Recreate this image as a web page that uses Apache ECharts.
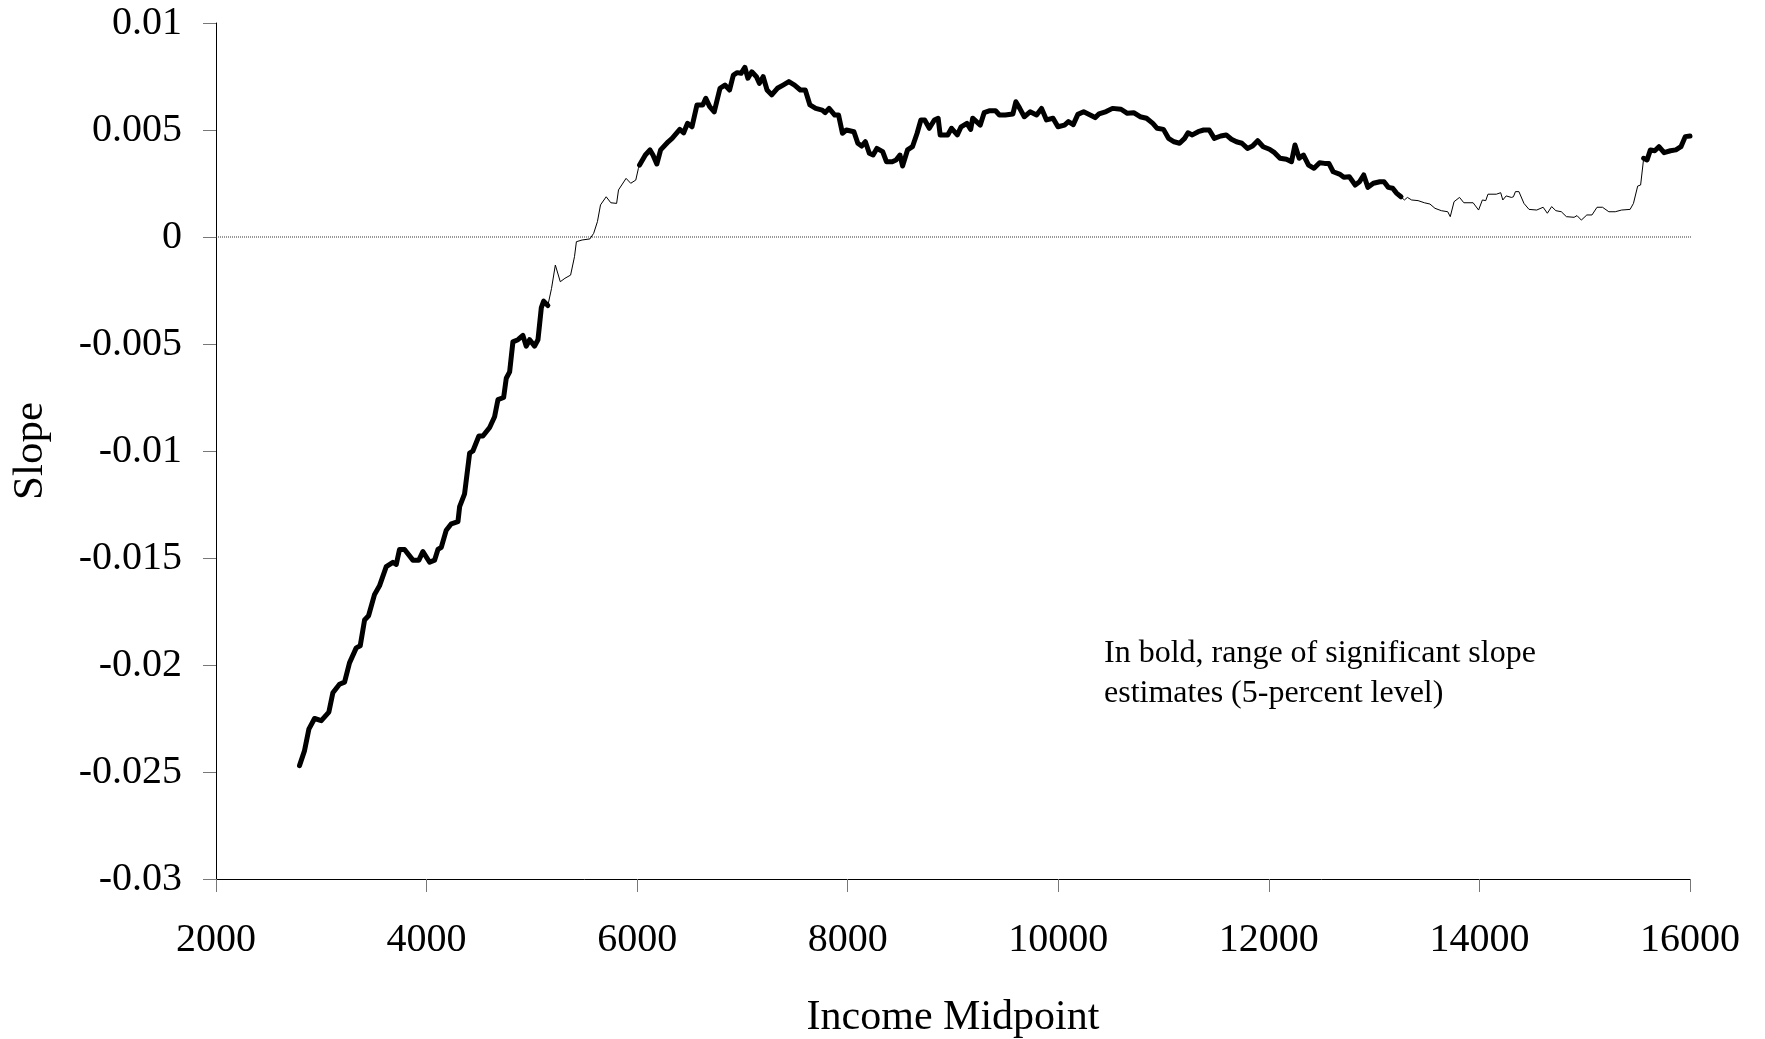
<!DOCTYPE html>
<html>
<head>
<meta charset="utf-8">
<title>Slope by Income Midpoint</title>
<script src="https://cdn.jsdelivr.net/npm/echarts@6/dist/echarts.min.js"></script>
<style>
  html, body { margin: 0; padding: 0; background: #ffffff; }
  #chart { width: 1765px; height: 1039px; }
</style>
</head>
<body>
<div id="chart"></div>
<script>
// Rolling-window slope estimates by income midpoint
const incomeMidpoint = [
  2793, 2841, 2882, 2936, 3000, 3072, 3110, 3173, 3221, 3268, 3332, 3370, 3411, 3449, 3506, 3553,
  3617, 3680, 3712, 3743, 3791, 3870, 3927, 3965, 4029, 4076, 4108, 4140, 4187, 4235, 4298, 4314,
  4361, 4409, 4440, 4497, 4535, 4599, 4646, 4678, 4732, 4757, 4789, 4820, 4868, 4915, 4947, 4979,
  5026, 5058, 5090, 5112, 5152, 5187, 5223, 5270, 5314, 5368, 5405, 5423, 5477, 5551, 5587, 5623,
  5652, 5706, 5750, 5805, 5823, 5895, 5939, 5987, 6012, 6023, 6078, 6122, 6150, 6187, 6223, 6295,
  6332, 6405, 6442, 6478, 6521, 6568, 6623, 6652, 6689, 6732, 6787, 6834, 6878, 6914, 6950, 6987,
  7023, 7052, 7089, 7133, 7161, 7197, 7234, 7278, 7332, 7386, 7441, 7495, 7550, 7597, 7641, 7696,
  7758, 7786, 7823, 7877, 7913, 7950, 7987, 8059, 8096, 8132, 8168, 8205, 8241, 8277, 8332, 8368,
  8423, 8459, 8496, 8521, 8568, 8615, 8659, 8695, 8731, 8775, 8823, 8859, 8878, 8950, 8986, 9041,
  9077, 9132, 9168, 9187, 9223, 9259, 9296, 9350, 9404, 9441, 9496, 9569, 9597, 9634, 9677, 9732,
  9794, 9841, 9888, 9950, 9997, 10059, 10096, 10142, 10186, 10241, 10303, 10350, 10387, 10455, 10515, 10596,
  10656, 10716, 10777, 10838, 10898, 10939, 10999, 11047, 11100, 11152, 11200, 11232, 11273, 11329, 11381, 11434,
  11482, 11543, 11595, 11644, 11692, 11744, 11797, 11845, 11894, 11946, 12006, 12054, 12106, 12167, 12215, 12248,
  12288, 12329, 12377, 12429, 12482, 12530, 12570, 12611, 12671, 12712, 12764, 12820, 12861, 12901, 12941, 12993,
  13054, 13094, 13135, 13175, 13215, 13255, 13287, 13316, 13356, 13417, 13477, 13530, 13578, 13638, 13699, 13723,
  13759, 13811, 13852, 13940, 13992, 14028, 14060, 14081, 14161, 14202, 14222, 14254, 14303, 14323, 14342, 14375,
  14423, 14471, 14544, 14605, 14645, 14686, 14726, 14778, 14826, 14899, 14927, 14968, 15020, 15069, 15117, 15169,
  15229, 15290, 15350, 15431, 15463, 15503, 15531, 15560, 15592, 15624, 15665, 15705, 15754, 15814, 15866, 15914,
  15955, 16000
];

const slopeEstimate = [
  -0.0247, -0.0240, -0.0230, -0.0225, -0.0226, -0.0222, -0.0213, -0.0209, -0.0208, -0.0199, -0.0192, -0.0191, -0.0179, -0.0177, -0.0167, -0.0163,
  -0.0154, -0.0152, -0.0153, -0.0146, -0.0146, -0.0151, -0.0151, -0.0147, -0.0152, -0.0151, -0.0146, -0.0145, -0.0137, -0.0134, -0.0133, -0.0126,
  -0.0120, -0.0101, -0.0100, -0.0093, -0.0093, -0.0089, -0.0084, -0.0076, -0.0075, -0.0066, -0.0063, -0.0049, -0.0048, -0.0046, -0.0051, -0.0048,
  -0.0051, -0.0048, -0.0033, -0.0030, -0.0032, -0.00240, -0.00131, -0.00209, -0.00193, -0.00178, -0.00092, -0.00022, -0.00014, -0.00009, 0.00017, 0.00072,
  0.00150, 0.00188, 0.00160, 0.00157, 0.00220, 0.00274, 0.00251, 0.00266, 0.00321, 0.00336, 0.00383, 0.00407, 0.00383, 0.00341, 0.00407, 0.00445,
  0.00461, 0.00503, 0.00487, 0.00531, 0.00515, 0.00617, 0.00617, 0.00648, 0.00609, 0.00585, 0.00695, 0.00710, 0.00687, 0.00757, 0.00768, 0.00765,
  0.00793, 0.00742, 0.00772, 0.00749, 0.00718, 0.00749, 0.00687, 0.00664, 0.00695, 0.00710, 0.00726, 0.00710, 0.00687, 0.00687, 0.00617, 0.00601,
  0.00593, 0.00581, 0.00601, 0.00570, 0.00570, 0.00485, 0.00500, 0.00492, 0.00438, 0.00425, 0.00445, 0.00391, 0.00383, 0.00414, 0.00399, 0.00352,
  0.00352, 0.00360, 0.00383, 0.00332, 0.00407, 0.00422, 0.00485, 0.00547, 0.00547, 0.00508, 0.00547, 0.00555, 0.00477, 0.00477, 0.00508, 0.00477,
  0.00515, 0.00531, 0.00503, 0.00555, 0.00539, 0.00523, 0.00581, 0.00590, 0.00590, 0.00570, 0.00570, 0.00575, 0.00632, 0.00601, 0.00562, 0.00585,
  0.00570, 0.00601, 0.00547, 0.00555, 0.00515, 0.00523, 0.00539, 0.00525, 0.00573, 0.00585, 0.00570, 0.00558, 0.00575, 0.00586, 0.00601, 0.00597,
  0.00578, 0.00581, 0.00562, 0.00555, 0.00531, 0.00508, 0.00503, 0.00461, 0.00445, 0.00438, 0.00461, 0.00487, 0.00477, 0.00492, 0.00500, 0.00500,
  0.00461, 0.00472, 0.00477, 0.00457, 0.00445, 0.00438, 0.00414, 0.00425, 0.00450, 0.00422, 0.00410, 0.00394, 0.00368, 0.00363, 0.00352, 0.00430,
  0.00368, 0.00383, 0.00336, 0.00321, 0.00347, 0.00344, 0.00344, 0.00305, 0.00294, 0.00279, 0.00282, 0.00243, 0.00258, 0.00290, 0.00232, 0.00251,
  0.00258, 0.00258, 0.00232, 0.00228, 0.00204, 0.00188, 0.00173, 0.00185, 0.00173, 0.00170, 0.00160, 0.00154, 0.00134, 0.00123, 0.00118, 0.00095,
  0.00165, 0.00185, 0.00160, 0.00160, 0.00126, 0.00173, 0.00170, 0.00200, 0.00200, 0.00207, 0.00173, 0.00192, 0.00185, 0.00188, 0.00212, 0.00212,
  0.00157, 0.00129, 0.00126, 0.00139, 0.00111, 0.00142, 0.00123, 0.00118, 0.00095, 0.00092, 0.00100, 0.00079, 0.00103, 0.00103, 0.00139, 0.00139,
  0.00118, 0.00118, 0.00126, 0.00129, 0.00157, 0.00238, 0.00243, 0.00368, 0.00360, 0.00407, 0.00403, 0.00422, 0.00394, 0.00403, 0.00407, 0.00422,
  0.00469, 0.00472
];

// Income ranges where the slope estimate is significant at the 5-percent level
const significantStart = [2793, 6023, 15560];
const significantEnd   = [5152, 13255, 16000];

const xTicks = [2000, 4000, 6000, 8000, 10000, 12000, 14000, 16000];
const yTicks = [-0.03, -0.025, -0.02, -0.015, -0.01, -0.005, 0, 0.005, 0.01];

const noteLines = [
  'In bold, range of significant slope',
  'estimates (5-percent level)'
];

const FONT = '"Liberation Serif", "Times New Roman", Times, serif';

const isSignificant = x =>
  significantStart.some((s, i) => x >= s && x <= significantEnd[i]);

const allPoints = incomeMidpoint.map((x, i) => [x, slopeEstimate[i]]);
const boldPoints = incomeMidpoint.map((x, i) =>
  isSignificant(x) ? [x, slopeEstimate[i]] : [x, null]);

const chart = echarts.init(document.getElementById('chart'), null, { renderer: 'canvas' });

chart.setOption({
  backgroundColor: '#ffffff',
  animation: false,
  grid: {
    left: 216, right: 75, top: 23, bottom: 160,
    containLabel: false,
    outerBoundsMode: 'none'
  },
  xAxis: {
    type: 'value',
    min: xTicks[0],
    max: xTicks[xTicks.length - 1],
    interval: xTicks[1] - xTicks[0],
    name: 'Income Midpoint',
    nameLocation: 'middle',
    nameGap: 118,
    nameTextStyle: { fontFamily: FONT, fontSize: 42, color: '#000' },
    axisLine: { show: true, onZero: false, lineStyle: { color: '#000', width: 1 } },
    axisTick: { show: true, inside: false, length: 13, lineStyle: { color: '#777', width: 1 } },
    axisLabel: {
      margin: 41,
      fontFamily: FONT,
      fontSize: 40,
      color: '#000',
      formatter: v => String(Math.round(v))
    },
    splitLine: { show: false }
  },
  yAxis: {
    type: 'value',
    min: yTicks[0],
    max: yTicks[yTicks.length - 1],
    interval: 0.005,
    name: 'Slope',
    nameLocation: 'middle',
    nameGap: 164,
    nameRotate: 90,
    nameTextStyle: { fontFamily: FONT, fontSize: 43, color: '#000' },
    axisLine: { show: true, onZero: false, lineStyle: { color: '#000', width: 1 } },
    axisTick: { show: true, inside: false, length: 13, lineStyle: { color: '#777', width: 1 } },
    axisLabel: {
      margin: 34,
      fontFamily: FONT,
      fontSize: 40,
      color: '#000',
      formatter: v => String(parseFloat(v.toFixed(4)))
    },
    splitLine: { show: false }
  },
  graphic: [{
    type: 'text',
    left: 1104,
    top: 634,
    style: {
      text: noteLines.join('\n'),
      font: '32px ' + FONT,
      fill: '#000',
      lineHeight: 40
    }
  }],
  series: [
    {
      name: 'zero',
      type: 'line',
      data: [[2000, 0], [16390, 0]],
      clip: false,
      symbol: 'none',
      silent: true,
      lineStyle: { color: '#333', width: 1, type: [1, 1] },
      z: 1
    },
    {
      name: 'Slope',
      type: 'line',
      data: allPoints,
      symbol: 'none',
      lineStyle: { color: '#000', width: 1 },
      z: 2
    },
    {
      name: 'Significant',
      type: 'line',
      data: boldPoints,
      connectNulls: false,
      symbol: 'none',
      lineStyle: { color: '#000', width: 5, cap: 'round', join: 'round' },
      z: 3
    }
  ]
});
</script>
</body>
</html>
